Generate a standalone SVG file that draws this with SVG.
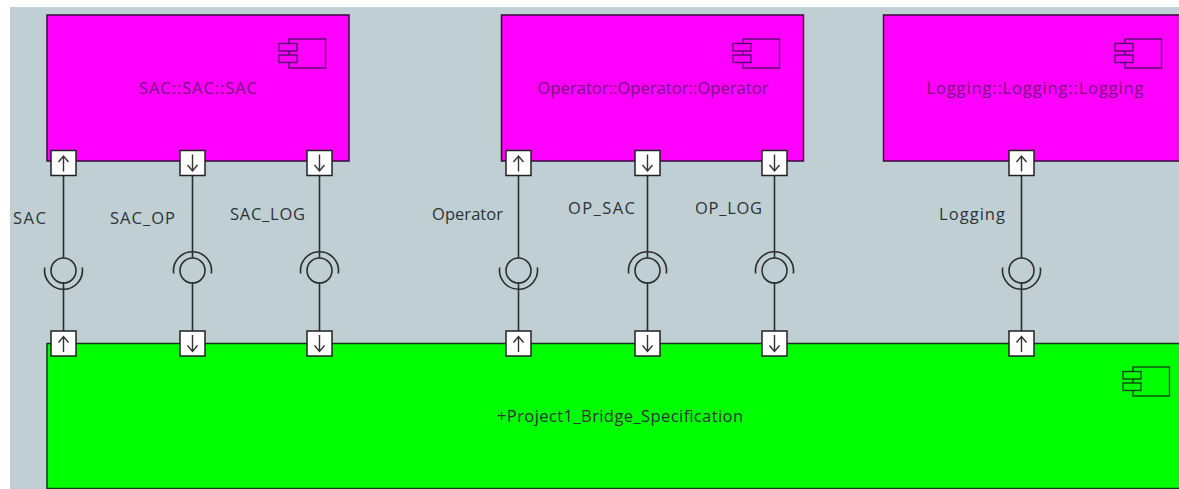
<svg xmlns="http://www.w3.org/2000/svg" width="1179" height="489" viewBox="0 0 1179 489">
<style>
text{font-family:"Open Sans","Noto Sans","DejaVu Sans",sans-serif;font-size:16.500px;fill:#2c3436}
.ct{text-anchor:middle}
.mt{fill:#7a1080}
.box{stroke:#3a0a40;stroke-width:1.5}
.m{fill:#ff00ff}
.g{fill:#00ff00;stroke:#0f3a14;stroke-width:1.5}
.port{fill:#fff;stroke:#222;stroke-width:1.5}
.ar{fill:none;stroke:#333;stroke-width:1.4}
.ln{fill:none;stroke:#2a2e30;stroke-width:1.6}
.im{fill:#ff00ff;stroke:#4a0a60}
.ig{fill:#00ff00;stroke:#0f3a14}
</style>
<defs>
<g id="icon" stroke-width="1.3"><rect x="10" y="0" width="36.500" height="29"/><rect x="0" y="4.500" width="18" height="7.500"/><rect x="0" y="16" width="18" height="7.500"/></g>
<g id="up"><rect class="port" x="-12.500" y="0" width="25" height="25"/><path class="ar" d="M0 21V6M-5 11.500L0 5.500L5 11.500"/></g>
<g id="down"><rect class="port" x="-12.500" y="0" width="25" height="25"/><path class="ar" d="M0 4V20M-5 14.500L0 20.500L5 14.500"/></g>
<g id="lolUp"><circle class="ln" cx="0" cy="0" r="12.500"/><path class="ln" d="M-18.800 -3A19 19 0 1 0 18.800 -3"/></g>
<g id="lolDown"><circle class="ln" cx="0" cy="0" r="12.500"/><path class="ln" d="M-18.800 3A19 19 0 1 1 18.800 3"/></g>
</defs>
<rect x="0" y="0" width="1179" height="489" fill="#fff"/>
<rect x="10" y="7" width="1169" height="482" fill="#bfcfd3"/>
<g id="sac"><rect class="box m" x="47" y="15" width="302" height="146"/><use href="#icon" class="im" x="279" y="39"/><text class="ct mt" x="198" y="94" textLength="118">SAC::SAC::SAC</text></g>
<g id="operator"><rect class="box m" x="501.500" y="15" width="302" height="146"/><use href="#icon" class="im" x="733" y="39"/><text class="ct mt" x="653" y="94" textLength="231">Operator::Operator::Operator</text></g>
<g id="logging"><rect class="box m" x="883.500" y="15" width="310" height="146"/><use href="#icon" class="im" x="1115" y="39"/><text class="ct mt" x="1035" y="94" textLength="217">Logging::Logging::Logging</text></g>
<g id="bridge"><rect class="g" x="47" y="343.500" width="1150" height="145"/><use href="#icon" class="ig" x="1123" y="367"/><text class="ct" x="620" y="422" textLength="246">+Project1_Bridge_Specification</text></g>
<g id="connectors">
<path class="ln" d="M63.500 175V258M63.500 282V331M192.500 175V258M192.500 282V331M319.500 175V258M319.500 282V331M518.500 175V258M518.500 282V331M647.500 175V258M647.500 282V331M774.500 175V258M774.500 282V331M1021.500 175V258M1021.500 282V331"/>
</g>
<g id="port-sac"><use href="#up" x="63.500" y="150.500"/><use href="#lolUp" x="63.500" y="270.500"/><use href="#up" x="63.500" y="331"/><text x="13" y="224" textLength="33">SAC</text></g>
<g id="port-sac-op"><use href="#down" x="192.500" y="150.500"/><use href="#lolDown" x="192.500" y="270.500"/><use href="#down" x="192.500" y="331"/><text x="110" y="224" textLength="65">SAC_OP</text></g>
<g id="port-sac-log"><use href="#down" x="319.500" y="150.500"/><use href="#lolDown" x="319.500" y="270.500"/><use href="#down" x="319.500" y="331"/><text x="230" y="220" textLength="75">SAC_LOG</text></g>
<g id="port-operator"><use href="#up" x="518.500" y="150.500"/><use href="#lolUp" x="518.500" y="270.500"/><use href="#up" x="518.500" y="331"/><text x="432" y="220" textLength="71">Operator</text></g>
<g id="port-op-sac"><use href="#down" x="647.500" y="150.500"/><use href="#lolDown" x="647.500" y="270.500"/><use href="#down" x="647.500" y="331"/><text x="568" y="214" textLength="67">OP_SAC</text></g>
<g id="port-op-log"><use href="#down" x="774.500" y="150.500"/><use href="#lolDown" x="774.500" y="270.500"/><use href="#down" x="774.500" y="331"/><text x="695" y="214" textLength="67">OP_LOG</text></g>
<g id="port-logging"><use href="#up" x="1021.500" y="150.500"/><use href="#lolUp" x="1021.500" y="270.500"/><use href="#up" x="1021.500" y="331"/><text x="939" y="220" textLength="66">Logging</text></g>
</svg>
